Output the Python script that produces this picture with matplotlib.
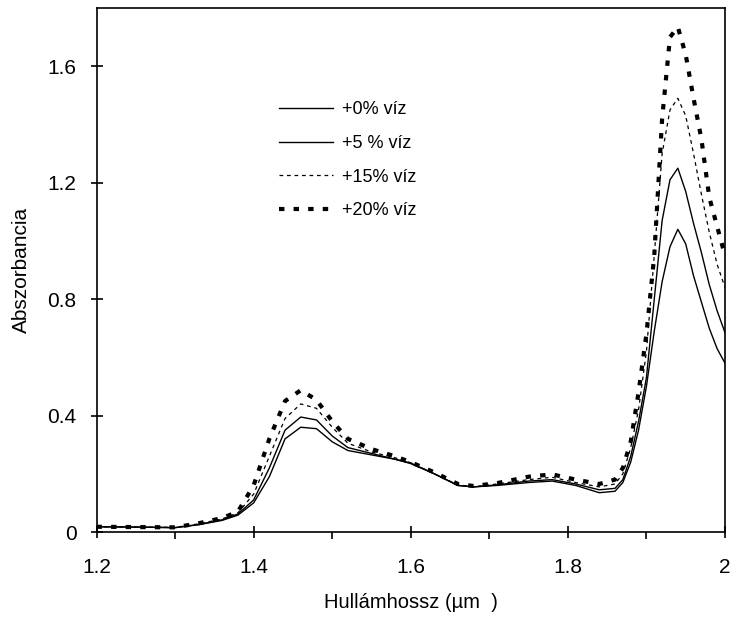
import matplotlib.pyplot as plt

plt.rcParams['font.family'] = ['Liberation Sans', 'DejaVu Sans']

# wavelength grid (um) and absorbance for each water content
wl = [1.20, 1.25, 1.30, 1.33, 1.36, 1.38, 1.40, 1.42, 1.44, 1.46, 1.48, 1.50,
      1.52, 1.55, 1.58, 1.60, 1.63, 1.66, 1.68, 1.71, 1.75, 1.78, 1.81, 1.84,
      1.86, 1.87, 1.88, 1.89, 1.90, 1.91, 1.92, 1.93, 1.94, 1.95, 1.96, 1.97,
      1.98, 1.99, 2.00]

abs_0 = [0.018, 0.017, 0.015, 0.025, 0.040, 0.058, 0.10, 0.19, 0.32, 0.36, 0.355, 0.31,
         0.28, 0.265, 0.25, 0.235, 0.20, 0.16, 0.155, 0.16, 0.17, 0.175, 0.16, 0.135,
         0.14, 0.17, 0.24, 0.35, 0.50, 0.69, 0.86, 0.98, 1.04, 0.99, 0.88, 0.79,
         0.70, 0.63, 0.58]
abs_5 = [0.018, 0.017, 0.015, 0.026, 0.042, 0.062, 0.11, 0.22, 0.35, 0.395, 0.385, 0.33,
         0.29, 0.27, 0.25, 0.237, 0.20, 0.16, 0.155, 0.162, 0.175, 0.18, 0.165, 0.145,
         0.15, 0.18, 0.26, 0.38, 0.53, 0.80, 1.07, 1.21, 1.25, 1.17, 1.06, 0.96,
         0.85, 0.76, 0.685]
abs_15 = [0.018, 0.017, 0.016, 0.028, 0.045, 0.066, 0.13, 0.26, 0.39, 0.44, 0.425, 0.36,
          0.305, 0.275, 0.255, 0.238, 0.20, 0.162, 0.155, 0.165, 0.18, 0.188, 0.17, 0.155,
          0.165, 0.20, 0.29, 0.42, 0.62, 0.95, 1.30, 1.45, 1.49, 1.43, 1.30, 1.16,
          1.03, 0.92, 0.84]
abs_20 = [0.018, 0.017, 0.016, 0.030, 0.048, 0.070, 0.16, 0.32, 0.45, 0.487, 0.454, 0.38,
          0.32, 0.285, 0.26, 0.24, 0.205, 0.165, 0.158, 0.168, 0.19, 0.198, 0.18, 0.165,
          0.18, 0.22, 0.31, 0.48, 0.68, 0.95, 1.42, 1.70, 1.735, 1.64, 1.49, 1.35,
          1.15, 1.05, 0.95]

labels = ['+0% víz', '+5 % víz', '+15% víz', '+20% víz']
xticks = [1.2, 1.4, 1.6, 1.8, 2.0]
xtick_labels = ['1.2', '1.4', '1.6', '1.8', '2']
xminor = [1.3, 1.5, 1.7, 1.9]
yticks = [0, 0.4, 0.8, 1.2, 1.6]
ytick_labels = ['0', '0.4', '0.8', '1.2', '1.6']

fig = plt.figure(figsize=(7.34, 6.21), dpi=100)
ax = fig.add_axes([0.1315, 0.1433, 0.8562, 0.8437])

ax.plot(wl, abs_0, color='black', lw=1.0, label=labels[0])
ax.plot(wl, abs_5, color='black', lw=1.0, label=labels[1])
ax.plot(wl, abs_15, color='black', lw=0.9, ls=(0, (3, 3)), label=labels[2])
ax.plot(wl, abs_20, color='black', lw=3.0, ls=(0, (1.3, 2.2)), label=labels[3])

ax.set_xlim(1.2, 2.0)
ax.set_ylim(0, 1.8)
ax.set_xticks(xticks)
ax.set_xticklabels(xtick_labels)
ax.set_xticks(xminor, minor=True)
ax.set_yticks(yticks)
ax.set_yticklabels(ytick_labels)
ax.tick_params(axis='both', which='major', direction='inout', length=9, width=1.2,
               labelsize=15, pad=10)
ax.tick_params(axis='x', which='minor', direction='out', length=5, width=1.2)
ax.tick_params(axis='x', which='major', pad=14)
for s in ax.spines.values():
    s.set_linewidth(1.2)

ax.set_xlabel('Hullámhossz (µm  )', fontsize=14.5, labelpad=12)
ax.set_ylabel('Abszorbancia', fontsize=15, labelpad=12)

ax.legend(loc='upper left', bbox_to_anchor=(0.265, 0.853), frameon=False,
          fontsize=13, handlelength=3.0, handletextpad=0.45, labelspacing=0.92)

fig.savefig('out.png', dpi=100)
